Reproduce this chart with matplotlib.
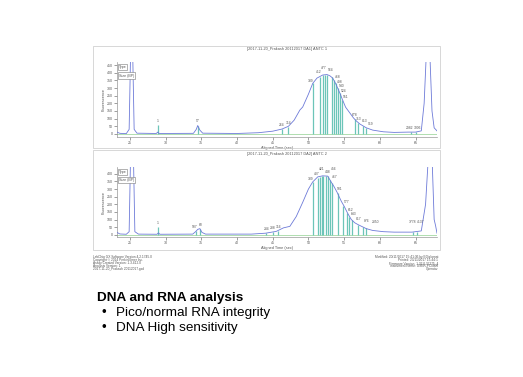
import matplotlib
matplotlib.use("Agg")
import matplotlib.pyplot as plt
from matplotlib.patches import Rectangle

plt.rcParams['font.family'] = ['Liberation Sans', 'DejaVu Sans']

W, H = 523, 377

# trace 1 (time in sec, fluorescence)
t1 = [23.2, 23.6, 24.5, 24.9, 25.1, 25.4, 25.6, 26.0, 28.7, 28.9, 29.1, 33.9, 34.3, 34.5, 34.8,
      35.2, 40.0, 43.0, 45.0, 46.3, 47.2, 48.0, 48.8, 49.2, 50.0, 50.6, 51.2, 52.0, 52.6, 53.0,
      53.4, 53.8, 54.4, 54.8, 55.2, 55.8, 56.3, 56.7, 57.2, 58.1, 59.0, 60.5, 62.0, 64.0, 65.0,
      65.8, 66.2, 66.5, 67.0, 67.3, 67.6, 68.0]
f1 = [12, 4, 2, 30, 520, 520, 30, 5, 3, 12, 3, 4, 30, 55, 25,
      5, 3, 8, 18, 32, 50, 90, 156, 176, 260, 330, 365, 385, 388, 380,
      365, 330, 267, 220, 175, 137, 105, 85, 65, 40, 25, 14, 10, 12, 12,
      20, 200, 520, 520, 150, 40, 20]

# trace 2
t2 = [23.2, 23.6, 24.5, 24.9, 25.1, 25.5, 25.7, 26.2, 28.8, 29.0, 29.2, 33.8, 34.2, 34.5, 34.8,
      35.1, 35.6, 42.0, 44.0, 45.5, 46.5, 47.4, 48.3, 49.2, 50.0, 50.6, 51.3, 52.0, 52.7, 53.2,
      53.6, 54.0, 54.6, 55.0, 55.5, 56.0, 56.5, 57.0, 58.1, 59.0, 60.5, 62.0, 64.5, 65.8, 66.4,
      66.8, 67.3, 67.6, 67.8, 68.0]
f2 = [15, 5, 3, 20, 520, 520, 20, 4, 3, 12, 3, 4, 20, 35, 40,
      15, 4, 4, 10, 22, 45, 55, 120, 213, 300, 347, 380, 387, 385, 345,
      315, 280, 220, 187, 140, 100, 78, 65, 40, 28, 20, 17, 17, 25, 200,
      520, 520, 100, 60, 10]

# called peaks: time, height, size label
p1_t = [28.9, 34.5, 46.3, 47.1, 50.6, 51.6, 52.0, 52.3, 52.6, 53.3, 53.6, 53.9, 54.2, 54.4,
        54.7, 56.5, 57.0, 57.6, 58.1, 64.4, 65.0]
p1_h = [60, 55, 30, 45, 330, 375, 385, 388, 388, 370, 355, 330, 300, 267,
        225, 95, 72, 55, 40, 12, 12]
p1_lab = ['1', '57', '264', '314', '389', '412', '477', '', '564', '', '468', '498', '540', '524',
          '551', '678', '713', '813', '919', '2982', '3006']

p2_t = [28.9, 34.3, 34.8, 44.1, 45.0, 45.7, 50.6, 51.3, 51.6, 51.9, 52.1, 52.4, 52.7, 53.0,
        53.3, 54.1, 54.9, 55.4, 55.7, 56.1, 57.0, 57.6, 58.0, 64.6, 65.2]
p2_h = [50, 25, 40, 10, 18, 25, 347, 375, 380, 385, 386, 386, 385, 360,
        340, 275, 190, 140, 115, 95, 65, 52, 45, 17, 17]
p2_lab = ['1', '507', '60', '234', '288', '316', '389', '407', '421', '', '', '448', '456', '467',
          '', '501', '577', '612', '643', '', '817', '876', '2350', '3778', '4137']

titles = ['[2017-11-20_Prakash 20112017 DA1] ANTC 1', '[2017-11-20_Prakash 20112017 DA2] ANTC 2']
xticks = [25, 30, 35, 40, 45, 50, 55, 60, 65]

footer_left = ['LabChip GX Software Version 4.2.1745.0', 'Copyright \u00a9 2014 PerkinElmer Inc.',
               'Assay Created Version: 1.3.412.0', 'Analysis Version: 1',
               '2017-11-20_Prakash 20112017.gxd']
footer_right = ['Modified: 20/11/2017 15:41:36 by EDiplomat', 'Printed: 23/11/2017 15:44:1',
                'Firmware Version: 1.32.0.37275_4', 'Instrument Name: USER-PC0808', 'Operator']

heading = 'DNA and RNA analysis'
bullets = ['Pico/normal RNA integrity', 'DNA High sensitivity']

# label nudges (points) so the crowded size labels stay readable
off1 = [(0, 1.5), (0, 1.5), (-0.5, 1.5), (0.5, 1.5), (-1.5, 0.5), (-0.5, 1.5), (1, 3.5), (0, 0),
        (2.5, 1.5), (0, 0), (2.5, 0.5), (2.5, -0.5), (2.5, 0), (2.5, 0), (2.5, 0),
        (0, 1.5), (0, 1.5), (1.5, 1.5), (3, 1.5), (-1.5, 1.5), (1.5, 1.5)]
off2 = [(0, 1.5), (-1, 1.5), (1, 1.5), (0, 1.5), (0, 1.5), (1, 1.5), (-1.5, 0.5), (-0.5, 1.5),
        (1.5, 4), (0, 0), (0, 0), (1.5, 1.5), (4.5, 3.5), (3.5, 0.5), (0, 0), (1.5, 1),
        (2, 1), (2.5, 1), (3, 1), (0, 0), (0, 3), (2.5, 3), (7, 3), (0, 6), (3, 6)]

blue = '#6d7ad8'
teal = '#6cc5b8'
grey = '#555555'


def fx(x):
    return x / W


def fy(y):
    return 1 - y / H


fig = plt.figure(figsize=(W / 100, H / 100), dpi=100)

# panel frames
for y0, y1 in [(46, 148), (150, 250)]:
    fig.patches.append(Rectangle((fx(93), fy(y1)), fx(440) - fx(93), fy(y0) - fy(y1),
                                 transform=fig.transFigure, fill=False, ec='#c8c8c8', lw=0.5))


def panel(top, bottom, ylim, yticks, t, f, pt, ph, plab, offs, title, title_y):
    ax = fig.add_axes([fx(117), fy(bottom), fx(437) - fx(117), fy(top) - fy(bottom)])
    ax.axhline(0, color='#8fd08f', lw=0.5, zorder=1)
    ax.vlines(pt, 0, ph, color=teal, lw=0.9, zorder=2)
    ax.plot(t, f, color=blue, lw=0.6, zorder=3)
    for x, h, s, (dx, dy) in zip(pt, ph, plab, offs):
        if s:
            ax.annotate(s, (x, h), xytext=(dx, dy), textcoords='offset points',
                        ha='center', va='bottom', fontsize=2.4, color=grey, zorder=4)
    ax.set_xlim(23.2, 68.0)
    ax.set_ylim(*ylim)
    ax.set_xticks(xticks)
    ax.set_yticks(yticks)
    ax.tick_params(labelsize=2.6, length=2, width=0.4, pad=1, colors=grey)
    for s in ['top', 'right']:
        ax.spines[s].set_visible(False)
    for s in ['left', 'bottom']:
        ax.spines[s].set_color('#999999')
        ax.spines[s].set_linewidth(0.5)
    ax.set_xlabel('Aligned Time (sec)', fontsize=2.8, color=grey, labelpad=0.5)
    ax.set_ylabel('Fluorescence', fontsize=2.8, color=grey, labelpad=1)
    ax.text(0.005, 0.93, 'Type', transform=ax.transAxes, fontsize=2.6, color=grey, va='center',
            bbox=dict(boxstyle='square,pad=0.3', fc='white', ec='#777777', lw=0.4))
    ax.text(0.005, 0.82, 'Size (BP)', transform=ax.transAxes, fontsize=2.6, color=grey, va='center',
            bbox=dict(boxstyle='square,pad=0.3', fc='white', ec='#777777', lw=0.4))
    fig.text(fx(287), fy(title_y), title, ha='center', va='center', fontsize=2.8, color=grey)
    return ax


panel(62, 137, (-20, 470), list(range(0, 451, 50)), t1, f1, p1_t, p1_h, p1_lab, off1, titles[0], 49)
panel(167, 237, (-15, 445), list(range(0, 401, 50)), t2, f2, p2_t, p2_h, p2_lab, off2, titles[1], 154)

for i, s in enumerate(footer_left):
    fig.text(fx(93), fy(257 + 3.1 * i), s, fontsize=2.3, color=grey, va='center', ha='left')
for i, s in enumerate(footer_right):
    fig.text(fx(438), fy(257 + 3.1 * i), s, fontsize=2.3, color=grey, va='center', ha='right')

fig.text(fx(97), fy(298), heading, fontsize=9.7, fontweight='bold', va='center', ha='left')
for i, s in enumerate(bullets):
    fig.text(fx(101), fy(313 + 15 * i), '\u2022', fontsize=9.7, va='center', ha='left')
    fig.text(fx(116), fy(313 + 15 * i), s, fontsize=9.7, va='center', ha='left')

fig.savefig('out.png', dpi=100, facecolor='white')
